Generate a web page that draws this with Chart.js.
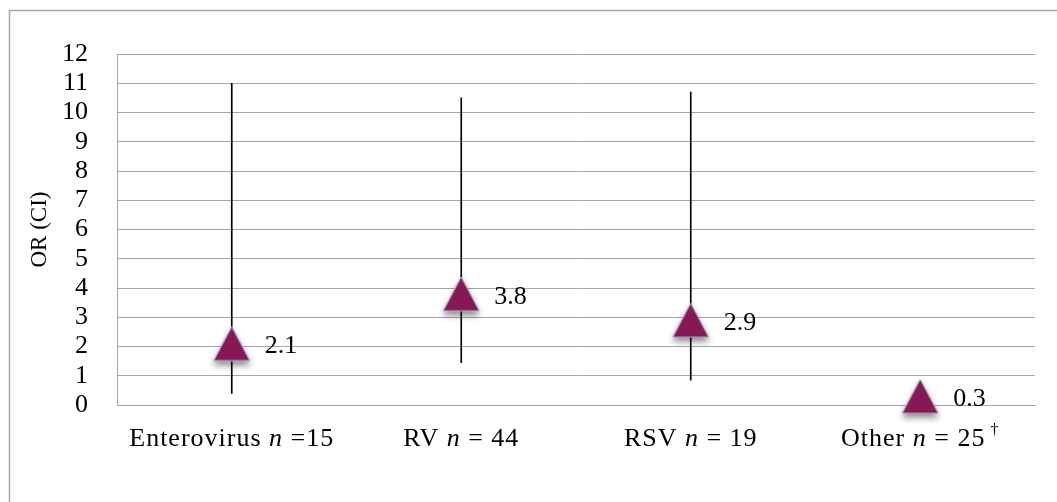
<!DOCTYPE html>
<html>
<head>
<meta charset="utf-8">
<script src="https://cdn.jsdelivr.net/npm/chart.js@4.4.1/dist/chart.umd.min.js"></script>
<style>
  html, body { margin: 0; padding: 0; background: #fff; }
  #wrap { width: 1057px; height: 502px; position: relative; }
</style>
</head>
<body>
<div id="wrap"><canvas id="orChart"></canvas></div>
<script>
// --- data ---
const categories = ['Enterovirus', 'RV', 'RSV', 'Other'];
const labelPre = ['Enterovirus ', 'RV ', 'RSV ', 'Other '];
const labelN = ['n', 'n', 'n', 'n'];
const labelPost = [' =15', ' = 44', ' = 19', ' = 25'];
const labelSup = ['', '', '', '\u2020'];

const orValues = [2.1, 3.8, 2.9, 0.3];
const ciLow = [0.4, 1.45, 0.85, null];
const ciHigh = [11.0, 10.5, 10.7, null];

const yTicks = [0, 1, 2, 3, 4, 5, 6, 7, 8, 9, 10, 11, 12];

const serif = '"Liberation Serif", "Times New Roman", serif';

// triangle marker (about as wide as it is tall, like the original)
const makeTriangle = () => {
    const cv = document.createElement('canvas');
    cv.width = 38;
    cv.height = 36;
    const c = cv.getContext('2d');
    c.beginPath();
    c.moveTo(19, 1);
    c.lineTo(37, 35);
    c.lineTo(1, 35);
    c.closePath();
    c.fillStyle = '#861954';
    c.fill();
    c.strokeStyle = '#a9b8d8';
    c.lineWidth = 1;
    c.stroke();
    return cv;
};
const triangle = makeTriangle();

// outer frame + white background
const framePlugin = {
    id: 'frame',
    beforeDraw(chart) {
        const c = chart.ctx;
        c.save();
        c.fillStyle = '#fff';
        c.fillRect(0, 0, chart.width, chart.height);
        c.strokeStyle = '#a6a6a6';
        c.lineWidth = 1.5;
        c.strokeRect(9.5, 10.5, 1200, 700);
        c.restore();
    }
};

// drop shadow under the triangles
const shadowPlugin = {
    id: 'shadow',
    beforeDatasetDraw(chart, args) {
        if (args.index !== 1) return;
        const c = chart.ctx;
        c.save();
        c.shadowColor = 'rgba(0,0,0,0.45)';
        c.shadowBlur = 6;
        c.shadowOffsetY = 4;
    },
    afterDatasetDraw(chart, args) {
        if (args.index !== 1) return;
        chart.ctx.restore();
    }
};

// value labels next to the points + x labels with italic n
const textPlugin = {
    id: 'texts',
    afterDraw(chart) {
        const c = chart.ctx;
        c.save();
        c.fillStyle = '#000';
        c.textBaseline = 'middle';

        // values
        c.font = '26px ' + serif;
        c.textAlign = 'left';
        chart.getDatasetMeta(1).data.forEach((pt, i) => {
            c.fillText(orValues[i].toFixed(1), pt.x + 33, pt.y + 3);
        });

        // x labels
        if ('letterSpacing' in c) c.letterSpacing = '1px';
        const xs = chart.scales.x;
        const y = chart.chartArea.bottom + 34;
        const normal = '26px ' + serif;
        const italic = 'italic 26px ' + serif;
        const small = '16px ' + serif;
        categories.forEach((cat, i) => {
            c.font = normal;
            const w1 = c.measureText(labelPre[i]).width;
            const w3 = c.measureText(labelPost[i]).width;
            c.font = italic;
            const w2 = c.measureText(labelN[i]).width;
            c.font = small;
            const w4 = labelSup[i] ? c.measureText(' ' + labelSup[i]).width : 0;
            let x = xs.getPixelForValue(i) - (w1 + w2 + w3 + w4) / 2;
            c.textAlign = 'left';
            c.font = normal;
            c.fillText(labelPre[i], x, y);
            x += w1;
            c.font = italic;
            c.fillText(labelN[i], x, y);
            x += w2;
            c.font = normal;
            c.fillText(labelPost[i], x, y);
            x += w3;
            if (labelSup[i]) {
                c.font = small;
                c.fillText(' ' + labelSup[i], x, y - 8);
            }
        });
        c.restore();
    }
};

const ctx = document.getElementById('orChart').getContext('2d');
new Chart(ctx, {
    type: 'bar',
    data: {
        labels: categories,
        datasets: [{
            // confidence intervals as thin floating bars
            type: 'bar',
            data: ciLow.map((lo, i) => lo == null ? null : [lo, ciHigh[i]]),
            backgroundColor: '#000',
            barThickness: 1,
            order: 2
        }, {
            type: 'line',
            data: orValues,
            showLine: false,
            pointStyle: triangle,
            pointRadius: 19,
            clip: false,
            order: 1
        }]
    },
    options: {
        responsive: true,
        maintainAspectRatio: false,
        animation: false,
        events: [],
        layout: { padding: { top: 54, right: 22, left: 0, bottom: 0 } },
        plugins: {
            legend: { display: false },
            tooltip: { enabled: false }
        },
        scales: {
            x: {
                offset: true,
                grid: { display: false },
                border: { display: true, color: '#a6a6a6' },
                ticks: { display: false },
                afterFit: s => { s.height = 97; }
            },
            y: {
                min: 0,
                max: 12,
                afterBuildTicks: s => { s.ticks = yTicks.map(v => ({ value: v })); },
                grid: { color: '#a6a6a6', drawTicks: false },
                border: { display: true, color: '#a6a6a6' },
                ticks: {
                    autoSkip: false,
                    padding: 29,
                    color: '#000',
                    font: { family: serif, size: 26 }
                },
                title: {
                    display: true,
                    text: 'OR (CI)',
                    color: '#000',
                    font: { family: serif, size: 23 },
                    padding: { top: 26, bottom: 0 }
                },
                afterFit: s => { s.width = 117; }
            }
        }
    },
    plugins: [framePlugin, shadowPlugin, textPlugin]
});
</script>
</body>
</html>
